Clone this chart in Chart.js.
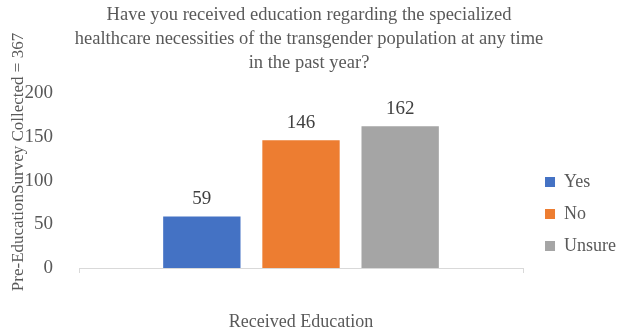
<!DOCTYPE html>
<html>
<head>
<meta charset="utf-8">
<script src="https://cdn.jsdelivr.net/npm/chart.js@4/dist/chart.umd.min.js"></script>
<style>
  html, body { margin: 0; padding: 0; background: #fff; overflow: hidden; }
  canvas { display: block; }
</style>
</head>
<body>
<canvas id="chart" width="618" height="335"></canvas>
<script>
// Datos de la encuesta
const categories = ['Received Education'];
const seriesNames = ['Yes', 'No', 'Unsure'];
const seriesValues = [59, 146, 162];
const seriesColors = ['#4472c4', '#ed7d31', '#a5a5a5'];
const yTicks = [0, 50, 100, 150, 200];
const yTitle = 'Pre-EducationSurvey Collected = 367';

const FONT = "'Liberation Serif', 'Times New Roman', serif";
const TEXT = '#595959';

// Etiquetas de valor encima de cada barra
const valueLabels = {
    id: 'valueLabels',
    afterDatasetsDraw(chart) {
        const ctx = chart.ctx;
        ctx.save();
        ctx.font = '19px ' + FONT;
        ctx.fillStyle = '#404040';
        ctx.textAlign = 'center';
        ctx.textBaseline = 'bottom';
        chart.data.datasets.forEach((ds, i) => {
            chart.getDatasetMeta(i).data.forEach((bar, j) => {
                ctx.fillText(ds.data[j], bar.x, bar.y - 8);
            });
        });
        ctx.restore();
    }
};

// Título vertical del eje Y, un poco por encima del centro del área
const yAxisTitle = {
    id: 'yAxisTitle',
    afterDraw(chart) {
        const ctx = chart.ctx;
        ctx.save();
        ctx.translate(19, 162);
        ctx.rotate(-Math.PI / 2);
        ctx.font = '17px ' + FONT;
        ctx.fillStyle = TEXT;
        ctx.textAlign = 'center';
        ctx.textBaseline = 'middle';
        ctx.fillText(yTitle, 0, 0);
        ctx.restore();
    }
};

// Leyenda desplazada a la derecha y centrada más abajo
const legendShift = {
    id: 'legendShift',
    afterLayout(chart) {
        const lg = chart.legend;
        const dx = 8;
        const h = lg.bottom - lg.top;
        const dy = 214 - (lg.top + h / 2);
        lg.left += dx; lg.right += dx;
        lg.top += dy; lg.bottom += dy;
    }
};

new Chart(document.getElementById('chart'), {
    type: 'bar',
    data: {
        labels: categories,
        datasets: seriesNames.map((name, i) => ({
            label: name,
            data: [seriesValues[i]],
            backgroundColor: seriesColors[i],
            barPercentage: 0.78,
            categoryPercentage: 0.67
        }))
    },
    options: {
        responsive: false,
        animation: false,
        devicePixelRatio: 1,
        layout: { padding: 0 },
        plugins: {
            title: {
                display: true,
                text: [
                    'Have you received education regarding the specialized',
                    'healthcare necessities of the transgender population at any time',
                    'in the past year?'
                ],
                color: TEXT,
                font: { family: FONT, size: 18.5, weight: 'normal', lineHeight: 1.3 },
                padding: { top: 3, bottom: 18 }
            },
            legend: {
                position: 'right',
                labels: {
                    color: TEXT,
                    font: { family: FONT, size: 18 },
                    boxWidth: 10,
                    boxHeight: 10,
                    padding: 14
                }
            },
            tooltip: { enabled: false }
        },
        scales: {
            x: {
                afterFit(scale) { scale.height = 67; },
                grid: {
                    display: true,
                    drawOnChartArea: false,
                    drawTicks: true,
                    tickLength: 5,
                    color: '#d9d9d9',
                    offset: true
                },
                border: { display: true, color: '#d9d9d9' },
                ticks: {
                    color: TEXT,
                    font: { family: FONT, size: 18 },
                    padding: 38,
                    maxRotation: 0,
                    minRotation: 0
                }
            },
            y: {
                min: 0,
                max: 200,
                afterFit(scale) { scale.width = 79; },
                afterBuildTicks(axis) {
                    axis.ticks = yTicks.map(v => ({ value: v }));
                },
                grid: { display: false },
                border: { display: false },
                ticks: {
                    color: TEXT,
                    font: { family: FONT, size: 19 },
                    padding: 18
                }
            }
        }
    },
    plugins: [valueLabels, yAxisTitle, legendShift]
});
</script>
</body>
</html>
